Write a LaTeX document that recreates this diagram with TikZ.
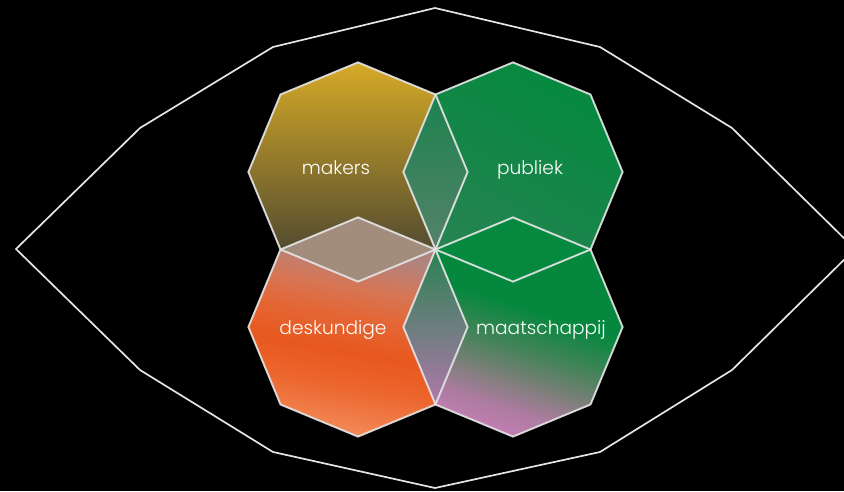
\documentclass[tikz,border=0pt]{standalone}
\usepackage{fontspec}
\IfFontExistsTF{Poppins Light}{\setmainfont{Poppins Light}}{\setmainfont{Poppins}}
\definecolor{bg}{RGB}{0,0,0}
\definecolor{linec}{RGB}{228,228,228}
\definecolor{gold}{RGB}{214,170,38}
\definecolor{olive}{RGB}{136,124,90}
\definecolor{darkolive}{RGB}{62,60,50}
\definecolor{grn}{RGB}{4,137,62}
\definecolor{grngray}{RGB}{40,131,82}
\definecolor{tealA}{RGB}{28,130,78}
\definecolor{tealB}{RGB}{85,130,105}
\definecolor{beige}{RGB}{162,141,124}
\definecolor{botA}{RGB}{40,130,80}
\definecolor{botB}{RGB}{112,124,116}
\definecolor{botC}{RGB}{178,120,172}
\pgfdeclareverticalshading{deskshade}{100bp}{%
  color(0bp)=(rgb,255:red,242;green,136;blue,86);
  color(26bp)=(rgb,255:red,242;green,136;blue,86);
  color(36bp)=(rgb,255:red,236;green,102;blue,46);
  color(44bp)=(rgb,255:red,232;green,88;blue,30);
  color(52bp)=(rgb,255:red,228;green,102;blue,52);
  color(59bp)=(rgb,255:red,214;green,118;blue,86);
  color(67bp)=(rgb,255:red,176;green,132;blue,126);
  color(100bp)=(rgb,255:red,165;green,135;blue,130)}
\pgfdeclareverticalshading{maatshade}{100bp}{%
  color(0bp)=(rgb,255:red,194;green,125;blue,180);
  color(26bp)=(rgb,255:red,194;green,125;blue,180);
  color(32bp)=(rgb,255:red,172;green,124;blue,160);
  color(39bp)=(rgb,255:red,120;green,127;blue,118);
  color(47bp)=(rgb,255:red,58;green,132;blue,84);
  color(55bp)=(rgb,255:red,5;green,136;blue,62);
  color(100bp)=(rgb,255:red,5;green,136;blue,62)}
\newcommand\octpath[2]{(#1+109.6,#2) -- (#1+77.5,#2-77.5) -- (#1,#2-109.6) -- (#1-77.5,#2-77.5) -- (#1-109.6,#2) -- (#1-77.5,#2+77.5) -- (#1,#2+109.6) -- (#1+77.5,#2+77.5) -- cycle}
\tikzset{
  outline/.style={draw=linec, line width=1.9pt, line join=miter, draw opacity=0.92},
  label/.style={text=white, font=\fontsize{18.6}{22}\selectfont, anchor=base, inner sep=0pt}
}
\begin{document}
\begin{tikzpicture}[x=1pt,y=-1pt]
\fill[bg] (0,0) rectangle (844,491);
\useasboundingbox (0,0) rectangle (844,491);
\clip (0,0) rectangle (844,491);
% outer eye polygon
\draw[draw=linec, line width=1.7pt, line join=miter]
  (435,8) -- (273,47) -- (140,128) -- (16,249) -- (140,370) -- (273,452) --
  (435,488) -- (600,452) -- (732,370) -- (855,249) -- (732,128) -- (600,47) -- cycle;
% octagons
\shade[top color=gold, middle color=olive, bottom color=darkolive] \octpath{358}{172};
\shade[top color=grn, bottom color=grngray, shading angle=-30] \octpath{513}{172};
\shade[shading=deskshade, shading angle=-10] \octpath{358}{327};
\shade[shading=maatshade, shading angle=-18] \octpath{513}{327};
% overlap diamonds
\shade[top color=tealA, bottom color=tealB] (435.5,94.5) -- (467.6,172) -- (435.5,249.5) -- (403.4,172) -- cycle;
\fill[beige] (280.5,249.5) -- (358,217.4) -- (435.5,249.5) -- (358,281.6) -- cycle;
\fill[grn] (590.5,249.5) -- (513,217.4) -- (435.5,249.5) -- (513,281.6) -- cycle;
\shade[top color=botA, middle color=botB, bottom color=botC] (435.5,249.5) -- (467.6,327) -- (435.5,404.5) -- (403.4,327) -- cycle;
% outlines
\draw[outline] \octpath{358}{172};
\draw[outline] \octpath{513}{172};
\draw[outline] \octpath{358}{327};
\draw[outline] \octpath{513}{327};
% labels
\node[label] (makers) at (336,174) {makers};
\node[label] (publiek) at (530,174) {publiek};
\node[label] (deskundige) at (333,334) {deskundige};
\node[label] (maatschappij) at (541,334) {maatschappij};
\end{tikzpicture}
\end{document}
